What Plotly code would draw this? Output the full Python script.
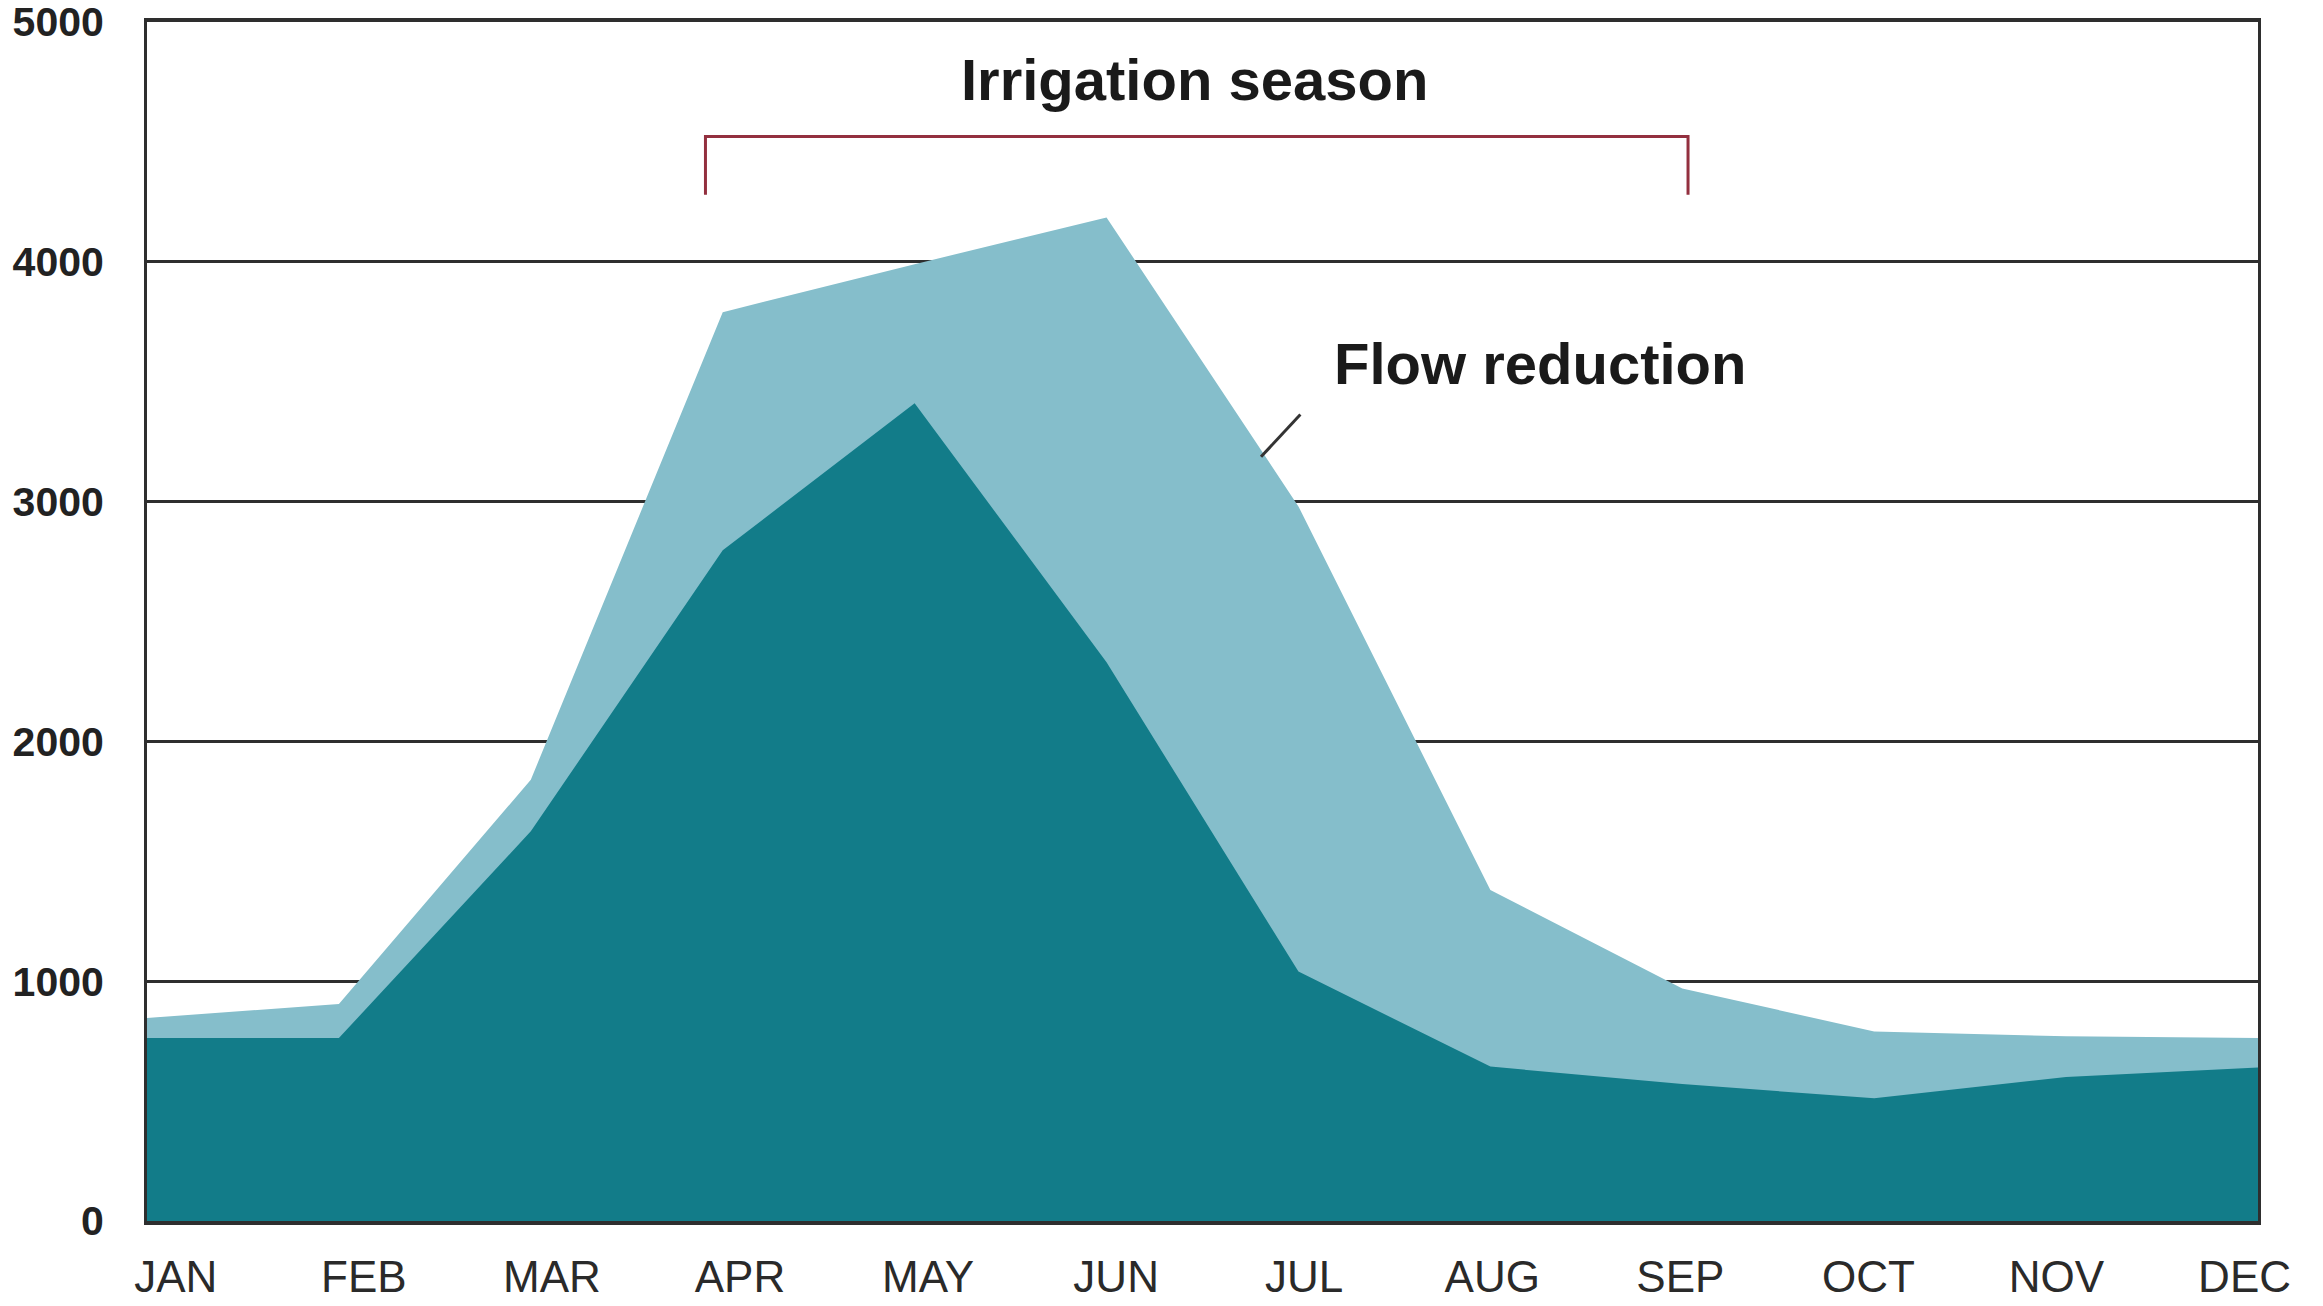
import plotly.graph_objects as go

# ---- data ----
months = ["JAN", "FEB", "MAR", "APR", "MAY", "JUN", "JUL", "AUG", "SEP", "OCT", "NOV", "DEC"]
natural_flow = [847, 905, 1840, 3790, 3990, 4185, 2980, 1380, 970, 790, 770, 763]
actual_flow = [763, 763, 1625, 2797, 3410, 2330, 1040, 644, 571, 512, 601, 640]
y_ticks = [0, 1000, 2000, 3000, 4000, 5000]

x_idx = list(range(len(months)))
tick_pos = [0.15 + 0.98 * i for i in x_idx]

DARK = "rgb(18,124,137)"
LIGHT = "rgb(133,190,203)"
LINE = "#2e2e2e"
FONT = "Liberation Sans, Arial, sans-serif"

fig = go.Figure()
fig.add_trace(go.Scatter(x=x_idx, y=natural_flow, mode="lines", fill="tozeroy",
                         fillcolor=LIGHT, line=dict(width=0, color=LIGHT),
                         hoverinfo="skip", showlegend=False))
fig.add_trace(go.Scatter(x=x_idx, y=actual_flow, mode="lines", fill="tozeroy",
                         fillcolor=DARK, line=dict(width=0, color=DARK),
                         hoverinfo="skip", showlegend=False))

# irrigation season bracket
fig.add_shape(type="path", xref="x", yref="y",
              path="M 2.91,4280 L 2.91,4522 L 8.03,4522 L 8.03,4280",
              line=dict(color="#93303f", width=3))
# leader line for flow reduction
fig.add_shape(type="line", xref="x", yref="y", x0=5.805, y0=3187, x1=6.01, y1=3363,
              line=dict(color="#333333", width=3))

fig.add_annotation(x=5.46, y=4760, xref="x", yref="y", text="Irrigation season",
                   showarrow=False, font=dict(family=FONT, size=58, color="#1a1a1a", weight="bold"))
fig.add_annotation(x=7.26, y=3575, xref="x", yref="y", text="Flow reduction",
                   showarrow=False, font=dict(family=FONT, size=58, color="#1a1a1a", weight="bold"))

fig.update_layout(
    width=2323, height=1306,
    margin=dict(l=147, r=65, t=22, b=85, autoexpand=False),
    paper_bgcolor="white", plot_bgcolor="white",
    font=dict(family=FONT),
)
fig.update_xaxes(range=[0, 11], tickmode="array", tickvals=tick_pos, ticktext=months,
                 showgrid=False, zeroline=False, showline=True, mirror=True,
                 linecolor=LINE, linewidth=4, ticks="", ticklabelstandoff=14,
                 ticklabeloverflow="allow",
                 tickfont=dict(family=FONT, size=44, color="#2a2a2a"))
fig.update_yaxes(range=[0, 5000], tickmode="array", tickvals=y_ticks,
                 showgrid=True, gridcolor=LINE, gridwidth=3, zeroline=False,
                 showline=True, mirror=True, linecolor=LINE, linewidth=3,
                 ticks="", ticklabelstandoff=32, ticklabeloverflow="allow",
                 tickfont=dict(family=FONT, size=41, color="#222222", weight="bold"))

fig.write_html(
    "out.html",
    config={"displayModeBar": False, "staticPlot": True},
    post_script="document.body.style.margin='0';document.body.style.overflow='hidden';",
)
